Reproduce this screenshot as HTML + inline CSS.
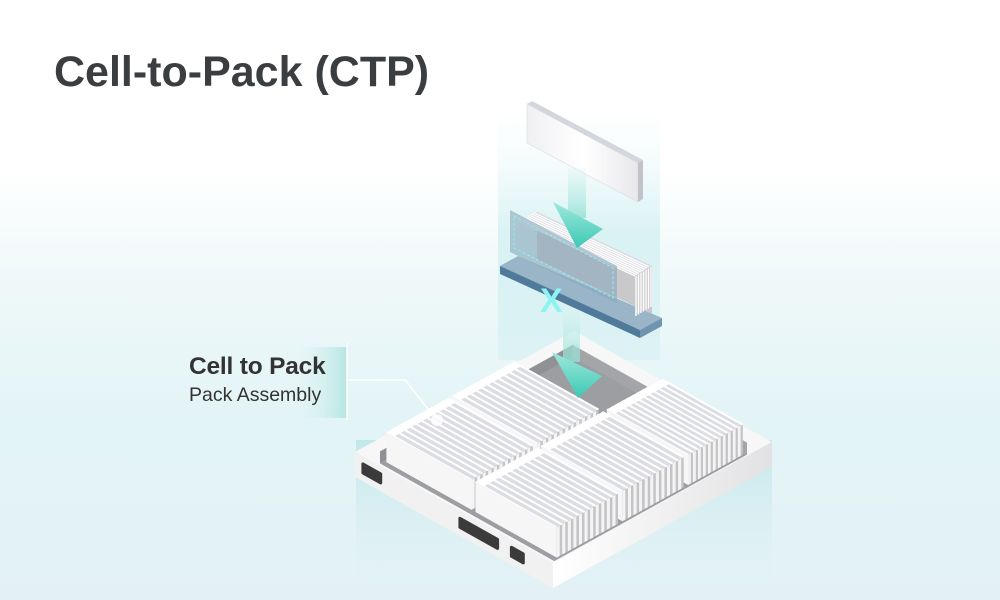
<!DOCTYPE html>
<html><head><meta charset="utf-8"><style>
html,body{margin:0;padding:0}
body{width:1000px;height:600px;overflow:hidden;font-family:"Liberation Sans",sans-serif;
background:linear-gradient(180deg,#ffffff 0%,#ffffff 28%,#eef8f9 48%,#e3f4f6 70%,#e3f1f5 100%);position:relative}
.t{position:absolute;left:54px;top:48px;font-size:43px;font-weight:bold;color:#3b3e40}
.l1{position:absolute;left:189px;top:353px;font-size:24.5px;font-weight:bold;color:#333;letter-spacing:-0.2px}
.l2{position:absolute;left:189px;top:384px;font-size:19.5px;color:#333}
svg{position:absolute;left:0;top:0}
</style></head><body>
<svg id="s" width="1000" height="600" viewBox="0 0 1000 600">
<defs>
<linearGradient id="lab" x1="0" x2="1"><stop offset="0" stop-color="#e4f5f6" stop-opacity="0"/><stop offset="1" stop-color="#b6e6e2"/></linearGradient>
<linearGradient id="glow" x1="0" y1="0" x2="0" y2="1"><stop offset="0" stop-color="#a8dde0" stop-opacity=".8"/><stop offset="1" stop-color="#e2f3f7" stop-opacity="0"/></linearGradient>
<linearGradient id="col" x1="0" y1="0" x2="0" y2="1"><stop offset="0" stop-color="#e6f6f7" stop-opacity="0"/><stop offset=".5" stop-color="#cdeef0"/><stop offset="1" stop-color="#d7f0f2"/></linearGradient>
<linearGradient id="arr" x1="0" y1="0" x2="0" y2="1"><stop offset="0" stop-color="#9fe8dc"/><stop offset="1" stop-color="#3cc9b5"/></linearGradient>
<linearGradient id="sh" x1="0" y1="0" x2="0" y2="1"><stop offset="0" stop-color="#d9f4f1" stop-opacity=".3"/><stop offset="1" stop-color="#8edfd3" stop-opacity=".8"/></linearGradient>
<linearGradient id="plate" x1="0" x2="1"><stop offset="0" stop-color="#f0f0f3"/><stop offset=".5" stop-color="#ffffff"/><stop offset="1" stop-color="#e8e8ec"/></linearGradient>
<linearGradient id="rface" x1="0" x2="1"><stop offset="0" stop-color="#ffffff"/><stop offset="1" stop-color="#e2e2e4"/></linearGradient>
</defs>
<rect x="290" y="347" width="57" height="71" fill="url(#lab)"/>
<line x1="347" y1="343" x2="347" y2="420" stroke="#fff" stroke-width="1.5"/>
<polyline points="347,380 405,380 432,414" fill="none" stroke="#fff" stroke-width="1.5"/>
<rect x="356" y="440" width="416" height="160" fill="url(#glow)" opacity=".7"/>
<rect x="498" y="110" width="162" height="250" fill="url(#col)" opacity=".7"/>
<g id="g"></g>
</svg>
<div class="t">Cell-to-Pack (CTP)</div>
<div class="l1">Cell to Pack</div>
<div class="l2">Pack Assembly</div>
<script>
var NS="http://www.w3.org/2000/svg",g=document.getElementById("g");
function el(n,a){var e=document.createElementNS(NS,n);for(var k in a)e.setAttribute(k,a[k]);g.appendChild(e);return e}
function P(a,b,z){return [355+198*a+219*b,452+111*a-121*b-z]}
function pts(l){return l.map(function(p){return p[0].toFixed(1)+","+p[1].toFixed(1)}).join(" ")}
function poly(l,f,s){return el("polygon",{points:pts(l),fill:f,stroke:s||"none","stroke-width":.6})}
var T=25;
poly([P(0,0,0),P(1,0,0),P(1,1,0),P(0,1,0)],"#f7f7f8");
poly([P(0,0,0),P(1,0,0),P(1,0,-T),P(0,0,-T)],"#f1f1f2");
poly([P(1,0,0),P(1,1,0),P(1,1,-T),P(1,0,-T)],"url(#rface)");
var r=0.06,fz=-12;
poly([P(r,r,0),P(1-r,r,0),P(1-r,1-r,0),P(r,1-r,0)],"#b9babd");
poly([P(r,1-r,0),P(r,r,0),P(r,r,fz),P(r,1-r,fz)],"#8f9194");
poly([P(r,1-r,0),P(1-r,1-r,0),P(1-r,1-r,fz),P(r,1-r,fz)],"#a4a5a8");
poly([P(r,r,fz),P(1-r,r,fz),P(1-r,1-r,fz),P(r,1-r,fz)],"#9c9ea1");
function slot(a0,a1,zc,h){var q=[P(a0,0,zc+h/2),P(a1,0,zc+h/2),P(a1,0,zc-h/2),P(a0,0,zc-h/2)];el("polygon",{points:pts(q),fill:"#3b3b3c",stroke:"#3b3b3c","stroke-width":3,"stroke-linejoin":"round"})}
slot(0.04,0.13,-12,9);slot(0.53,0.72,-12,9);slot(0.79,0.85,-12,9);
var zt=18;
function box(a0,a1,b0,b1){
 poly([P(a0,b0,zt),P(a1,b0,zt),P(a1,b1,zt),P(a0,b1,zt)],"#dcdde3");
 var n=11;
 for(var i=0;i<=n;i++){var b=b0+(b1-b0)*i/n;el("line",{x1:P(a0,b,zt)[0],y1:P(a0,b,zt)[1],x2:P(a1,b,zt)[0],y2:P(a1,b,zt)[1],stroke:"#fff","stroke-width":2})}
 poly([P(a0,b0,zt),P(a0+0.04,b0,zt),P(a0+0.04,b1,zt),P(a0,b1,zt)],"#ffffff");
 poly([P(a0,b0,zt),P(a1,b0,zt),P(a1,b0,fz),P(a0,b0,fz)],"#f6f6f7");
 poly([P(a1,b0,zt),P(a1,b1,zt),P(a1,b1,fz),P(a1,b0,fz)],"#c4c4c7");
 for(var i=0;i<n;i++){var b=b0+(b1-b0)*i/n,c=b0+(b1-b0)*(i+0.55)/n;
  poly([P(a1,b,zt),P(a1,c,zt),P(a1,c,fz),P(a1,b,fz)],"#f4f4f5");}
}
var A=[0.07,0.5],B=[0.52,0.93],C1=[0.08,0.36],C2=[0.38,0.66],C3=[0.68,0.93];
box(A[0],A[1],C2[0],C2[1]);
box(A[0],A[1],C1[0],C1[1]);
box(B[0],B[1],C3[0],C3[1]);
box(B[0],B[1],C2[0],C2[1]);
box(B[0],B[1],C1[0],C1[1]);
el("circle",{cx:437,cy:420,r:6,fill:"#fff",opacity:.8});
el("rect",{x:563,y:308,width:17,height:54,fill:"url(#sh)"});
poly([[552,352],[602,376],[578,398]],"url(#arr)");
poly([[500,266],[518,256],[662,318],[640,330]],"#9ab4c8");
poly([[500,266],[640,330],[640,338],[500,274]],"#4f7a9a");
poly([[640,330],[662,318],[662,326],[640,338]],"#6f93b0");
poly([[537,212],[652,266],[652,314],[537,260]],"#c9c9cc");
poly([[520,222],[537,212],[652,266],[635,276]],"#dcdde3");
for(var i=0;i<8;i++){var d=i*2.2;el("line",{x1:520+d*0.9,y1:222-d*0.6,x2:635+d*0.9,y2:276-d*0.6,stroke:"#fff","stroke-width":1.2})}
poly([[635,276],[652,266],[652,305],[635,316]],"#cfcfd2");
for(var i=0;i<7;i++){var x=636+i*2.5;el("line",{x1:x,y1:276-i*1.5,x2:x,y2:316-i*1.5,stroke:"#fff","stroke-width":1.2})}
poly([[510,210],[617,266],[617,303],[510,252]],"#8aa7bb").setAttribute("opacity",".6");
el("polygon",{points:"514,216 613,268 613,298 514,248",fill:"none",stroke:"#8ff0ee","stroke-width":1,"stroke-dasharray":"3,2"});
el("text",{x:540,y:312,"font-size":34,"font-weight":"bold",fill:"#8ef4f2","font-family":"Liberation Sans, sans-serif"}).textContent="X";
poly([[527,104],[532,101],[643,160],[638,163]],"#d4d6dd");
poly([[527,104],[638,163],[638,202],[527,143]],"url(#plate)","#d8d9de");
poly([[638,163],[643,160],[643,199],[638,202]],"#c2c3c8");
el("rect",{x:568,y:168,width:18,height:50,fill:"url(#sh)"});
poly([[553,202],[603,229],[577,248]],"url(#arr)");
</script>
</body></html>
